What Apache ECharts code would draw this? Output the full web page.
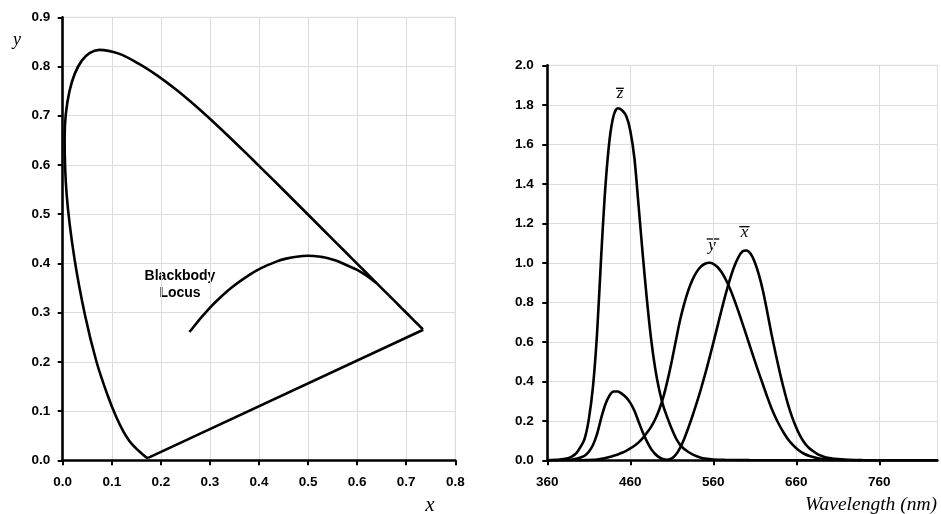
<!DOCTYPE html>
<html><head><meta charset="utf-8">
<script src="https://cdn.jsdelivr.net/npm/echarts@6/dist/echarts.min.js"></script>
<style>html,body{margin:0;padding:0;background:#fff}#c{width:941px;height:514px}</style>
</head><body><div id="c"></div>
<script>
// ---- Chromaticity diagram: spectral locus 380..700 nm (5 nm steps)
const locusX = [0.1741,0.1740,0.1738,0.1736,0.1733,0.1730,0.1726,0.1721,0.1714,0.1703,0.1689,0.1669,0.1644,0.1611,0.1566,0.1510,0.1440,0.1355,0.1241,0.1096,0.0913,0.0687,0.0454,0.0235,0.0082,0.0039,0.0139,0.0389,0.0743,0.1142,0.1547,0.1929,0.2296,0.2658,0.3016,0.3373,0.3731,0.4087,0.4441,0.4788,0.5125,0.5448,0.5752,0.6029,0.6270,0.6482,0.6658,0.6801,0.6915,0.7006,0.7079,0.7140,0.7190,0.7230,0.7260,0.7283,0.7300,0.7311,0.7320,0.7327,0.7334,0.7340,0.7344,0.7346,0.7347];
const locusY = [0.0050,0.0050,0.0049,0.0049,0.0048,0.0048,0.0048,0.0048,0.0051,0.0058,0.0069,0.0086,0.0109,0.0138,0.0177,0.0227,0.0297,0.0399,0.0578,0.0868,0.1327,0.2007,0.2950,0.4127,0.5384,0.6548,0.7502,0.8120,0.8338,0.8262,0.8059,0.7816,0.7543,0.7243,0.6923,0.6589,0.6245,0.5896,0.5547,0.5202,0.4866,0.4544,0.4242,0.3965,0.3725,0.3514,0.3340,0.3197,0.3083,0.2993,0.2920,0.2859,0.2809,0.2770,0.2740,0.2717,0.2700,0.2689,0.2680,0.2673,0.2666,0.2660,0.2656,0.2654,0.2653];
// ---- Blackbody (Planckian) locus, high to low temperature
const bbX = [0.2580,0.2637,0.2807,0.2952,0.3135,0.3450,0.3805,0.4053,0.4366,0.4553,0.4765,0.5000,0.5269,0.5438,0.5609,0.5857,0.6000,0.6200,0.6390];
const bbY = [0.2610,0.2673,0.2883,0.3048,0.3237,0.3516,0.3767,0.3909,0.4042,0.4097,0.4137,0.4155,0.4133,0.4097,0.4043,0.3931,0.3870,0.3745,0.3600];
// ---- Colour matching functions
const wavelengths = [360,365,370,375,380,385,390,395,400,405,410,415,420,425,430,435,440,445,450,455,460,465,470,475,480,485,490,495,500,505,510,515,520,525,530,535,540,545,550,555,560,565,570,575,580,585,590,595,600,605,610,615,620,625,630,635,640,645,650,655,660,665,670,675,680,685,690,695,700,710,720,730,740,750,760,770,780,790,800,810,820,830];
const xBar = [0.000130,0.000232,0.000415,0.000742,0.001368,0.002236,0.004243,0.007650,0.014310,0.023190,0.043510,0.077630,0.134380,0.214770,0.283900,0.328500,0.348280,0.348060,0.336200,0.318700,0.290800,0.251100,0.195360,0.142100,0.095640,0.057950,0.032010,0.014700,0.004900,0.002400,0.009300,0.029100,0.063270,0.109600,0.165500,0.225750,0.290400,0.359700,0.433450,0.512050,0.594500,0.678400,0.762100,0.842500,0.916300,0.978600,1.026300,1.056700,1.062200,1.045600,1.002600,0.938400,0.854450,0.751400,0.642400,0.541900,0.447900,0.360800,0.283500,0.218700,0.164900,0.121200,0.087400,0.063600,0.046770,0.032900,0.022700,0.015840,0.011359,0.005790,0.002899,0.001440,0.000690,0.000332,0.000166,0.000083,0.000042,0.000021,0.000010,0.000005,0.000003,0.000001];
const yBar = [0.000004,0.000007,0.000012,0.000022,0.000039,0.000064,0.000120,0.000217,0.000396,0.000640,0.001210,0.002180,0.004000,0.007300,0.011600,0.016840,0.023000,0.029800,0.038000,0.048000,0.060000,0.073900,0.090980,0.112600,0.139020,0.169300,0.208020,0.258600,0.323000,0.407300,0.503000,0.608200,0.710000,0.793200,0.862000,0.914850,0.954000,0.980300,0.994950,1.000000,0.995000,0.978600,0.952000,0.915400,0.870000,0.816300,0.757000,0.694900,0.631000,0.566800,0.503000,0.441200,0.381000,0.321000,0.265000,0.217000,0.175000,0.138200,0.107000,0.081600,0.061000,0.044580,0.032000,0.023200,0.017000,0.011920,0.008210,0.005723,0.004102,0.002091,0.001047,0.000520,0.000249,0.000120,0.000060,0.000030,0.000015,0.000008,0.000004,0.000002,0.000001,0.000000];
const zBar = [0.000606,0.001086,0.001946,0.003486,0.006450,0.010550,0.020050,0.036210,0.067850,0.110200,0.207400,0.371300,0.645600,1.039050,1.385600,1.622960,1.747060,1.782600,1.772110,1.744100,1.669200,1.528100,1.287640,1.041900,0.812950,0.616200,0.465180,0.353300,0.272000,0.212300,0.158200,0.111700,0.078250,0.057250,0.042160,0.029840,0.020300,0.013400,0.008750,0.005750,0.003900,0.002750,0.002100,0.001800,0.001650,0.001400,0.001100,0.001000,0.000800,0.000600,0.000340,0.000240,0.000190,0.000100,0.000050,0.000030,0.000020,0.000010,0,0,0,0,0,0,0,0,0,0,0,0,0,0,0,0,0,0,0,0,0,0,0,0];
const waveTicks = [360,460,560,660,760];
const W0 = 360;

const locus = locusX.map((x,i)=>[x,locusY[i]]);
const closing = [locus[locus.length-1], locus[0]];
const bb = bbX.map((x,i)=>[x,bbY[i]]);
const mk = arr => wavelengths.map((w,i)=>[w-W0, arr[i]]);

const tickFont = {color:'#000', fontFamily:'Liberation Sans, Arial', fontWeight:'bold', fontSize:13.5};
const axLine = {show:true, onZero:false, lineStyle:{color:'#000', width:2.6}};
const axTick = {show:true, inside:false, length:5, lineStyle:{color:'#000', width:2}};
const split = {show:true, lineStyle:{color:'#dcdcdc', width:1}};
const lineS = {color:'#000', width:2.6};
const serif = 'Liberation Serif, Times New Roman, serif';

const option = {
  animation:false,
  backgroundColor:'#fff',
  grid:[
    {left:62.7, top:17.3, width:392.6, height:443, show:true, borderColor:'#dcdcdc', borderWidth:1},
    {left:547.3, top:65.3, width:390.1, height:395, show:true, borderColor:'#dcdcdc', borderWidth:1}
  ],
  xAxis:[
    {gridIndex:0, type:'value', min:0, max:0.8, interval:0.1, axisLine:axLine, axisTick:axTick, splitLine:split,
     axisLabel:Object.assign({margin:15, formatter:v=>v.toFixed(1)}, tickFont)},
    {gridIndex:1, type:'value', min:0, max:470, interval:100, axisLine:axLine,
     axisTick:Object.assign({customValues:waveTicks.map(w=>w-W0)}, axTick), splitLine:split,
     axisLabel:Object.assign({margin:15, formatter:v=>waveTicks.includes(v+W0)?String(v+W0):''}, tickFont)}
  ],
  yAxis:[
    {gridIndex:0, type:'value', min:0, max:0.9, interval:0.1, axisLine:axLine, axisTick:axTick, splitLine:split,
     axisLabel:Object.assign({margin:12.5, formatter:v=>v.toFixed(1)}, tickFont)},
    {gridIndex:1, type:'value', min:0, max:2, interval:0.2, axisLine:axLine, axisTick:axTick, splitLine:split,
     axisLabel:Object.assign({margin:13.5, formatter:v=>v.toFixed(1)}, tickFont)}
  ],
  series:[
    {type:'line', xAxisIndex:0, yAxisIndex:0, data:locus, smooth:0.35, showSymbol:false, lineStyle:lineS, z:3, clip:false},
    {type:'line', xAxisIndex:0, yAxisIndex:0, data:closing, showSymbol:false, lineStyle:lineS, z:3, clip:false},
    {type:'line', xAxisIndex:0, yAxisIndex:0, data:bb, smooth:0.4, showSymbol:false, lineStyle:lineS, z:3},
    {type:'line', xAxisIndex:1, yAxisIndex:1, data:mk(xBar), smooth:0.3, showSymbol:false, lineStyle:lineS, z:3},
    {type:'line', xAxisIndex:1, yAxisIndex:1, data:mk(yBar), smooth:0.3, showSymbol:false, lineStyle:lineS, z:3},
    {type:'line', xAxisIndex:1, yAxisIndex:1, data:mk(zBar), smooth:0.3, showSymbol:false, lineStyle:lineS, z:3}
  ],
  graphic:[
    {type:'text', x:17, y:40.5, style:{text:'y', font:'italic 18px '+serif, fill:'#000', align:'center', verticalAlign:'middle'}},
    {type:'text', x:430, y:505.5, style:{text:'x', font:'italic 21px '+serif, fill:'#000', align:'center', verticalAlign:'middle'}},
    {type:'text', x:937, y:505, style:{text:'Wavelength (nm)', font:'italic 19.5px '+serif, fill:'#000', align:'right', verticalAlign:'middle'}},
    {type:'text', x:180, y:276, style:{text:'Blackbody', font:'bold 14px Liberation Sans, Arial', fill:'#000', align:'center', verticalAlign:'middle'}},
    {type:'text', x:180, y:293.5, style:{text:'Locus', font:'bold 14px Liberation Sans, Arial', fill:'#000', align:'center', verticalAlign:'middle'}},
    {type:'text', x:620, y:94, style:{text:'z', font:'italic 17px '+serif, fill:'#000', align:'center', verticalAlign:'middle'}},
    {type:'line', shape:{x1:616, y1:88.3, x2:623.8, y2:88.3}, style:{stroke:'#000', lineWidth:1.3}},
    {type:'text', x:712, y:245.5, style:{text:'y', font:'italic 17px '+serif, fill:'#000', align:'center', verticalAlign:'middle'}},
    {type:'line', shape:{x1:706.7, y1:239, x2:719.3, y2:239}, style:{stroke:'#000', lineWidth:1.3}},
    {type:'text', x:744.5, y:233, style:{text:'x', font:'italic 17px '+serif, fill:'#000', align:'center', verticalAlign:'middle'}},
    {type:'line', shape:{x1:739.3, y1:226.7, x2:749.5, y2:226.7}, style:{stroke:'#000', lineWidth:1.3}}
  ]
};
const chart = echarts.init(document.getElementById('c'), null, {renderer:'canvas'});
chart.setOption(option);
</script></body></html>
